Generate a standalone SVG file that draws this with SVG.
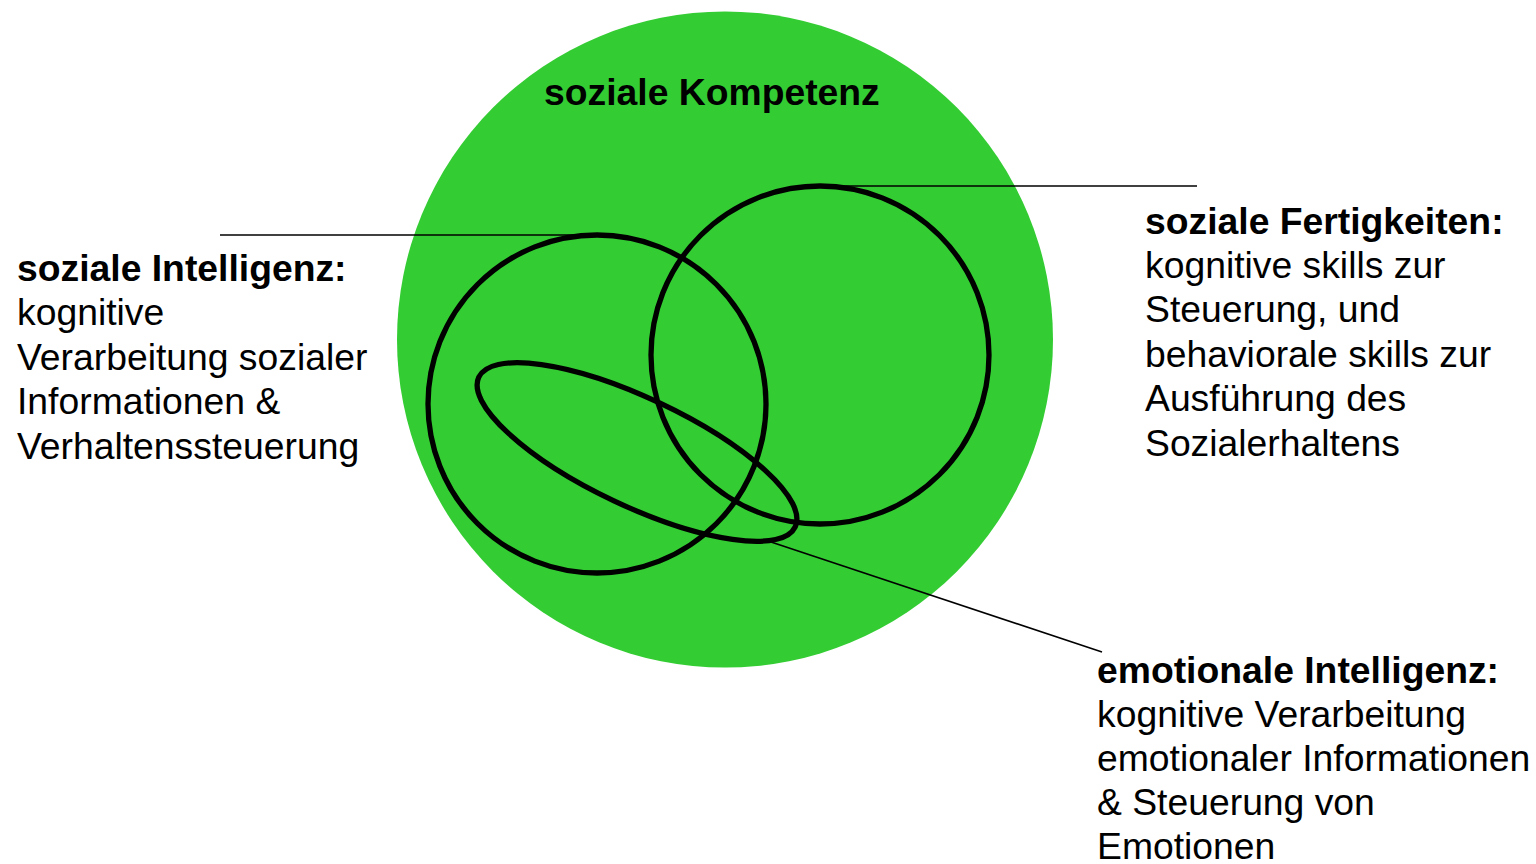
<svg xmlns="http://www.w3.org/2000/svg" width="1536" height="864" viewBox="0 0 1536 864">
<style>
.t{font-family:"Liberation Sans",Arial,sans-serif;font-size:37.3px;fill:#000}
.b{font-weight:bold}
.ring{fill:none;stroke:#000;stroke-width:5.3}
.conn{stroke:#000;stroke-width:1.6;fill:none}
</style>
<rect width="1536" height="864" fill="#fff"/>
<g id="kompetenz">
<circle cx="725" cy="339.5" r="328" fill="#33cc33"/>
<text class="t b" x="544" y="105">soziale Kompetenz</text>
</g>
<g id="connectors">
<line class="conn" x1="220" y1="235" x2="597" y2="235"/>
<line class="conn" x1="820" y1="186" x2="1197" y2="186"/>
<line class="conn" x1="765" y1="540" x2="1102" y2="652"/>
</g>
<g id="intelligenz">
<circle class="ring" cx="597" cy="404" r="169"/>
<text class="t" x="17" y="281"><tspan class="b">soziale Intelligenz:</tspan><tspan x="17" dy="44.4">kognitive</tspan><tspan x="17" dy="44.4">Verarbeitung sozialer</tspan><tspan x="17" dy="44.4">Informationen &amp;</tspan><tspan x="17" dy="44.4">Verhaltenssteuerung</tspan></text>
</g>
<g id="fertigkeiten">
<circle class="ring" cx="820" cy="355" r="169"/>
<text class="t" x="1145" y="233.5"><tspan class="b">soziale Fertigkeiten:</tspan><tspan x="1145" dy="44.4">kognitive skills zur</tspan><tspan x="1145" dy="44.4">Steuerung, und</tspan><tspan x="1145" dy="44.4">behaviorale skills zur</tspan><tspan x="1145" dy="44.4">Ausführung des</tspan><tspan x="1145" dy="44.4">Sozialerhaltens</tspan></text>
</g>
<g id="emotional">
<ellipse class="ring" cx="637" cy="452" rx="175" ry="54" transform="rotate(25.3 637 452)"/>
<text class="t" x="1097" y="682.5"><tspan class="b">emotionale Intelligenz:</tspan><tspan x="1097" dy="44">kognitive Verarbeitung</tspan><tspan x="1097" dy="44">emotionaler Informationen</tspan><tspan x="1097" dy="44">&amp; Steuerung von</tspan><tspan x="1097" dy="44">Emotionen</tspan></text>
</g>
</svg>
